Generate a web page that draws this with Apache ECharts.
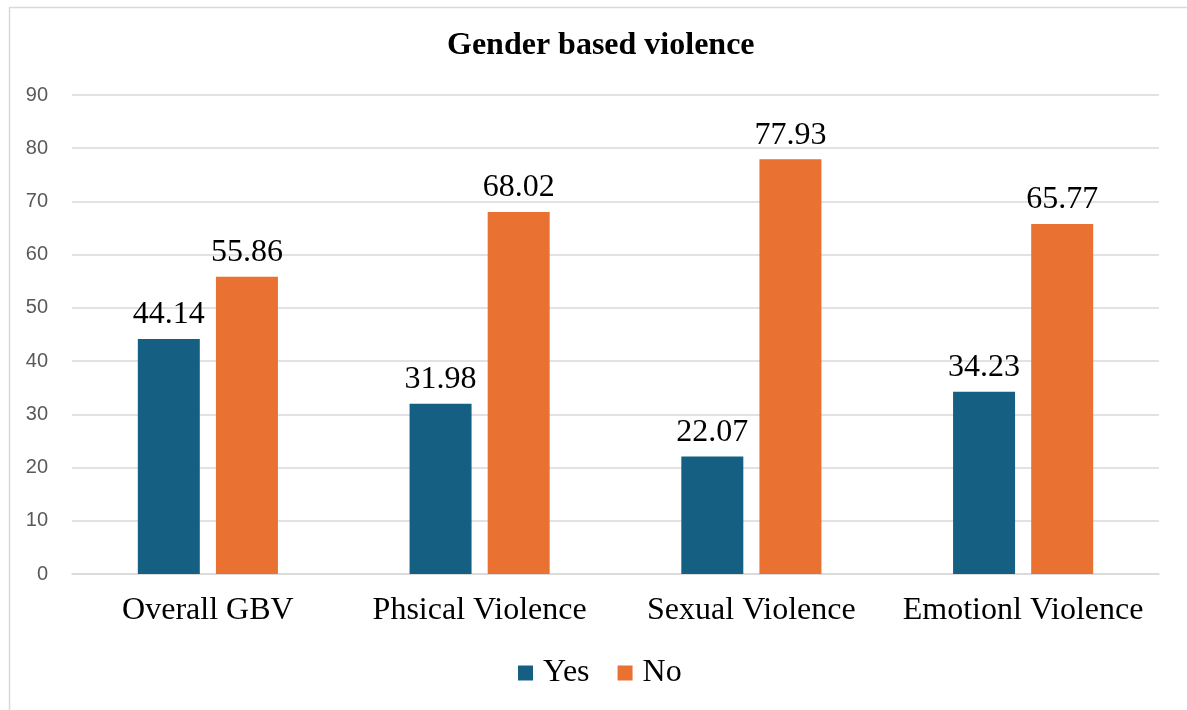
<!DOCTYPE html>
<html>
<head>
<meta charset="utf-8">
<script src="https://cdn.jsdelivr.net/npm/echarts@6/dist/echarts.min.js"></script>
<style>
html,body{margin:0;padding:0;background:#fff;}
#chart{width:1187px;height:710px;}
</style>
</head>
<body>
<div id="chart"></div>
<script>
const titleText = 'Gender based violence';
const categories = ['Overall GBV', 'Phsical Violence', 'Sexual Violence', 'Emotionl Violence'];
const yesValues = [44.14, 31.98, 22.07, 34.23];
const noValues = [55.86, 68.02, 77.93, 65.77];
const seriesNames = ['Yes', 'No'];

const serif = '"Liberation Serif", "Times New Roman", serif';
const labelStyle = {
  show: true, position: 'top', distance: 8,
  fontFamily: serif, fontSize: 32, color: '#000',
  formatter: p => p.value.toFixed(2)
};

const chart = echarts.init(document.getElementById('chart'), null, {renderer: 'canvas'});
chart.setOption({
  animation: false,
  backgroundColor: '#fff',
  graphic: [{
    type: 'rect', left: 7, top: 5, silent: true,
    shape: {width: 1200, height: 720},
    style: {fill: 'none', stroke: '#d9d9d9', lineWidth: 1.5}
  }],
  title: {
    text: titleText, left: 442, top: 25,
    textStyle: {fontFamily: serif, fontWeight: 'bold', fontSize: 32, color: '#000'}
  },
  legend: {
    data: seriesNames, bottom: 16, left: 513,
    itemWidth: 15, itemHeight: 15, itemGap: 28, icon: 'rect',
    textStyle: {fontFamily: serif, fontSize: 32, color: '#000', padding: [0, 0, 0, 5]}
  },
  grid: {left: 72, right: 28, top: 95, bottom: 136, containLabel: false},
  xAxis: {
    type: 'category', data: categories,
    axisLine: {show: true, lineStyle: {color: '#d9d9d9', width: 1.5}},
    axisTick: {show: false},
    axisLabel: {interval: 0, fontFamily: serif, fontSize: 32, color: '#000', margin: 21}
  },
  yAxis: {
    type: 'value', min: 0, max: 90, interval: 10,
    axisLine: {show: false}, axisTick: {show: false},
    axisLabel: {fontFamily: '"Liberation Sans", Arial, sans-serif', fontSize: 20, color: '#595959', margin: 24},
    splitLine: {lineStyle: {color: '#d9d9d9', width: 1.5}}
  },
  series: [
    {name: seriesNames[0], type: 'bar', data: yesValues, barWidth: 62, barGap: '26%',
     itemStyle: {color: '#156082'}, label: labelStyle},
    {name: seriesNames[1], type: 'bar', data: noValues, barWidth: 62,
     itemStyle: {color: '#E97132'}, label: labelStyle}
  ]
});
</script>
</body>
</html>
